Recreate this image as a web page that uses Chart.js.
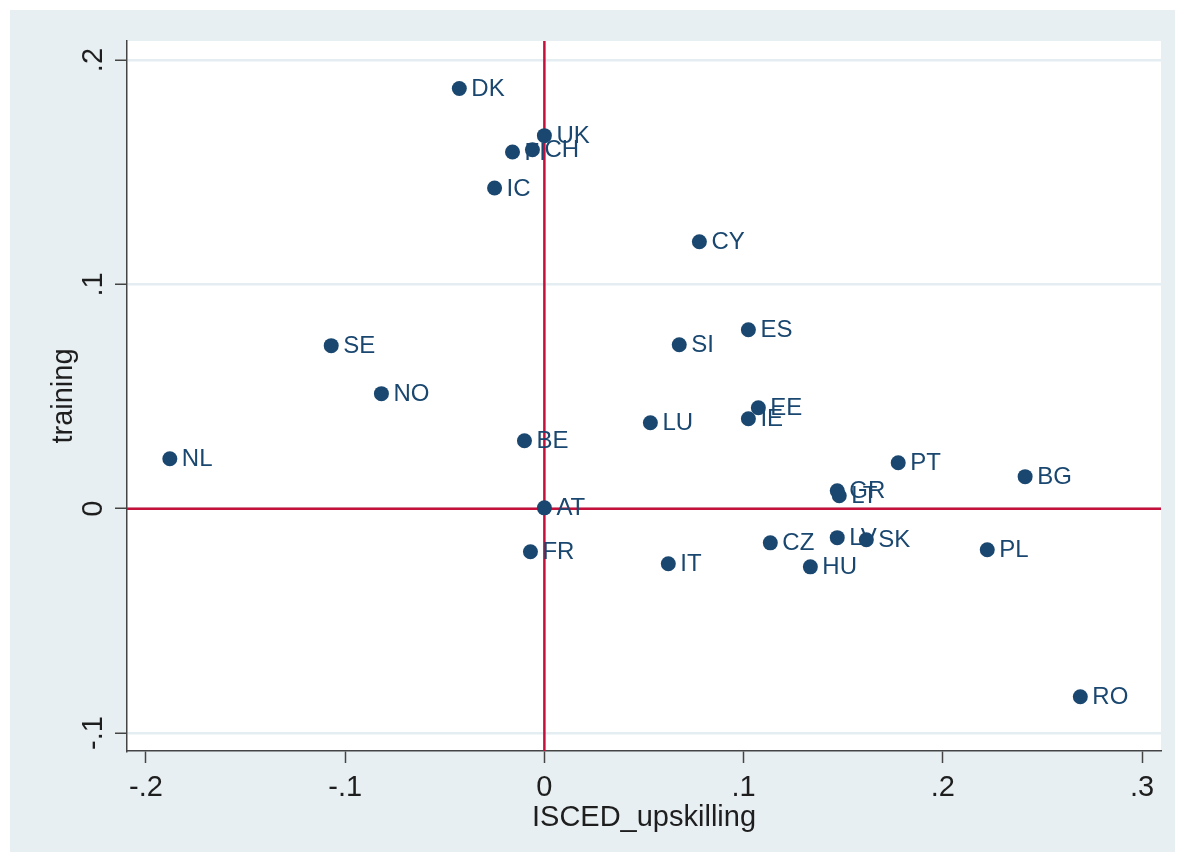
<!DOCTYPE html>
<html><head><meta charset="utf-8">
<script src="https://cdn.jsdelivr.net/npm/chart.js@4.4.1/dist/chart.umd.min.js"></script>
<style>
html,body{margin:0;padding:0;background:#fff;}
#wrap{position:absolute;left:10px;top:10px;width:1165px;height:842px;background:#e8eff2;}
canvas{display:block;}
</style></head><body>
<div id="wrap"><canvas id="c" width="1165" height="842"></canvas></div>
<script>
const countries  = ['DK','UK','FI','CH','IC','CY','SE','ES','SI','NO','EE','IE','LU','BE','NL','PT','BG','GR','LT','AT','CZ','LV','SK','PL','FR','IT','HU','RO'];
const upskilling = [-0.0427,0.0000,-0.0160,-0.0060,-0.0250,0.0778,-0.1070,0.1024,0.0677,-0.0818,0.1074,0.1024,0.0532,-0.0100,-0.1880,0.1776,0.2413,0.1470,0.1480,0.0000,0.1134,0.1470,0.1616,0.2223,-0.0070,0.0622,0.1335,0.2690];
const training   = [0.1873,0.1663,0.1590,0.1600,0.1430,0.1190,0.0727,0.0798,0.0731,0.0513,0.0450,0.0401,0.0383,0.0303,0.0223,0.0205,0.0143,0.0080,0.0058,0.0004,-0.0152,-0.0129,-0.0138,-0.0183,-0.0192,-0.0245,-0.0259,-0.0838];
const xTicks = [-0.2,-0.1,0,0.1,0.2,0.3];
const xTickLabels = ['-.2','-.1','0','.1','.2','.3'];
const yTicks = [-0.1,0,0.1,0.2];
const yTickLabels = ['-.1','0','.1','.2'];
const xRange = [-0.2095, 0.3095];
const yRange = [-0.108, 0.2085];
const xTitle = 'ISCED_upskilling';
const yTitle = 'training';

const FONT = '"Liberation Sans", Arial, sans-serif';
const NAVY = '#1a476f';
const RED = '#c4103a';

const points = countries.map((c, i) => ({x: upskilling[i], y: training[i]}));

const bgPlugin = {
  id: 'bg',
  beforeDraw(chart) {
    const {ctx, chartArea: a} = chart;
    ctx.save();
    ctx.fillStyle = '#ffffff';
    ctx.fillRect(a.left, a.top, a.right - a.left, a.bottom - a.top);
    ctx.restore();
  }
};

const yLabelPlugin = {
  id: 'ylabels',
  afterDraw(chart) {
    const {ctx} = chart;
    const ys = chart.scales.y;
    ctx.save();
    ctx.fillStyle = '#1e1e1e';
    ctx.font = '29px ' + FONT;
    ctx.textAlign = 'center';
    ctx.textBaseline = 'middle';
    yTicks.forEach((v, i) => {
      const py = ys.getPixelForValue(v);
      ctx.save();
      ctx.translate(84, py);
      ctx.rotate(-Math.PI / 2);
      ctx.fillText(yTickLabels[i], 0, 0);
      ctx.restore();
    });
    ctx.restore();
  }
};

const pointLabelPlugin = {
  id: 'plabels',
  afterDatasetsDraw(chart) {
    const {ctx} = chart;
    const meta = chart.getDatasetMeta(2);
    ctx.save();
    ctx.fillStyle = NAVY;
    ctx.font = '24px ' + FONT;
    ctx.textAlign = 'left';
    ctx.textBaseline = 'middle';
    meta.data.forEach((el, i) => {
      ctx.fillText(countries[i], el.x + 12, el.y + 1);
    });
    ctx.restore();
  }
};

new Chart(document.getElementById('c'), {
  type: 'scatter',
  data: {
    datasets: [
      {type: 'line', data: [{x: 0, y: yRange[0]}, {x: 0, y: yRange[1]}], borderColor: RED, borderWidth: 2.5, pointRadius: 0, order: 3},
      {type: 'line', data: [{x: xRange[0], y: 0}, {x: xRange[1], y: 0}], borderColor: RED, borderWidth: 2.5, pointRadius: 0, order: 2},
      {data: points, backgroundColor: NAVY, borderColor: NAVY, borderWidth: 0, pointRadius: 7.5, pointHoverRadius: 7.5, order: 1}
    ]
  },
  options: {
    responsive: false,
    animation: false,
    events: [],
    layout: {padding: {left: 0, top: 31, right: 14, bottom: 0}},
    plugins: {legend: {display: false}, tooltip: {enabled: false}},
    scales: {
      x: {
        type: 'linear', position: 'bottom', min: xRange[0], max: xRange[1],
        afterBuildTicks(s) { s.ticks = xTicks.map(v => ({value: v})); },
        afterFit(s) { s.height = 101; },
        grid: {drawOnChartArea: false, drawTicks: true, tickLength: 12, tickColor: '#444', tickWidth: 1.5},
        border: {display: true, color: '#444', width: 1.5},
        ticks: {
          color: '#1e1e1e', font: {size: 29, family: FONT}, padding: 8, maxRotation: 0, minRotation: 0,
          callback(v) { const i = xTicks.findIndex(t => Math.abs(t - v) < 1e-9); return i >= 0 ? xTickLabels[i] : ''; }
        },
        title: {display: true, text: xTitle, color: '#1e1e1e', font: {size: 29, family: FONT}, padding: {top: 0, bottom: 17}}
      },
      y: {
        type: 'linear', position: 'left', min: yRange[0], max: yRange[1],
        afterBuildTicks(s) { s.ticks = yTicks.map(v => ({value: v})); },
        afterFit(s) { s.width = 117; },
        grid: {color: '#e4edf1', lineWidth: 2.5, drawTicks: true, tickLength: 12, tickColor: '#444', tickWidth: 1.5},
        border: {display: true, color: '#444', width: 1.5},
        ticks: {display: false},
        title: {display: true, text: yTitle, color: '#1e1e1e', font: {size: 29, family: FONT}, padding: {top: 37, bottom: 0}}
      }
    }
  },
  plugins: [bgPlugin, yLabelPlugin, pointLabelPlugin]
});
</script>
</body></html>
